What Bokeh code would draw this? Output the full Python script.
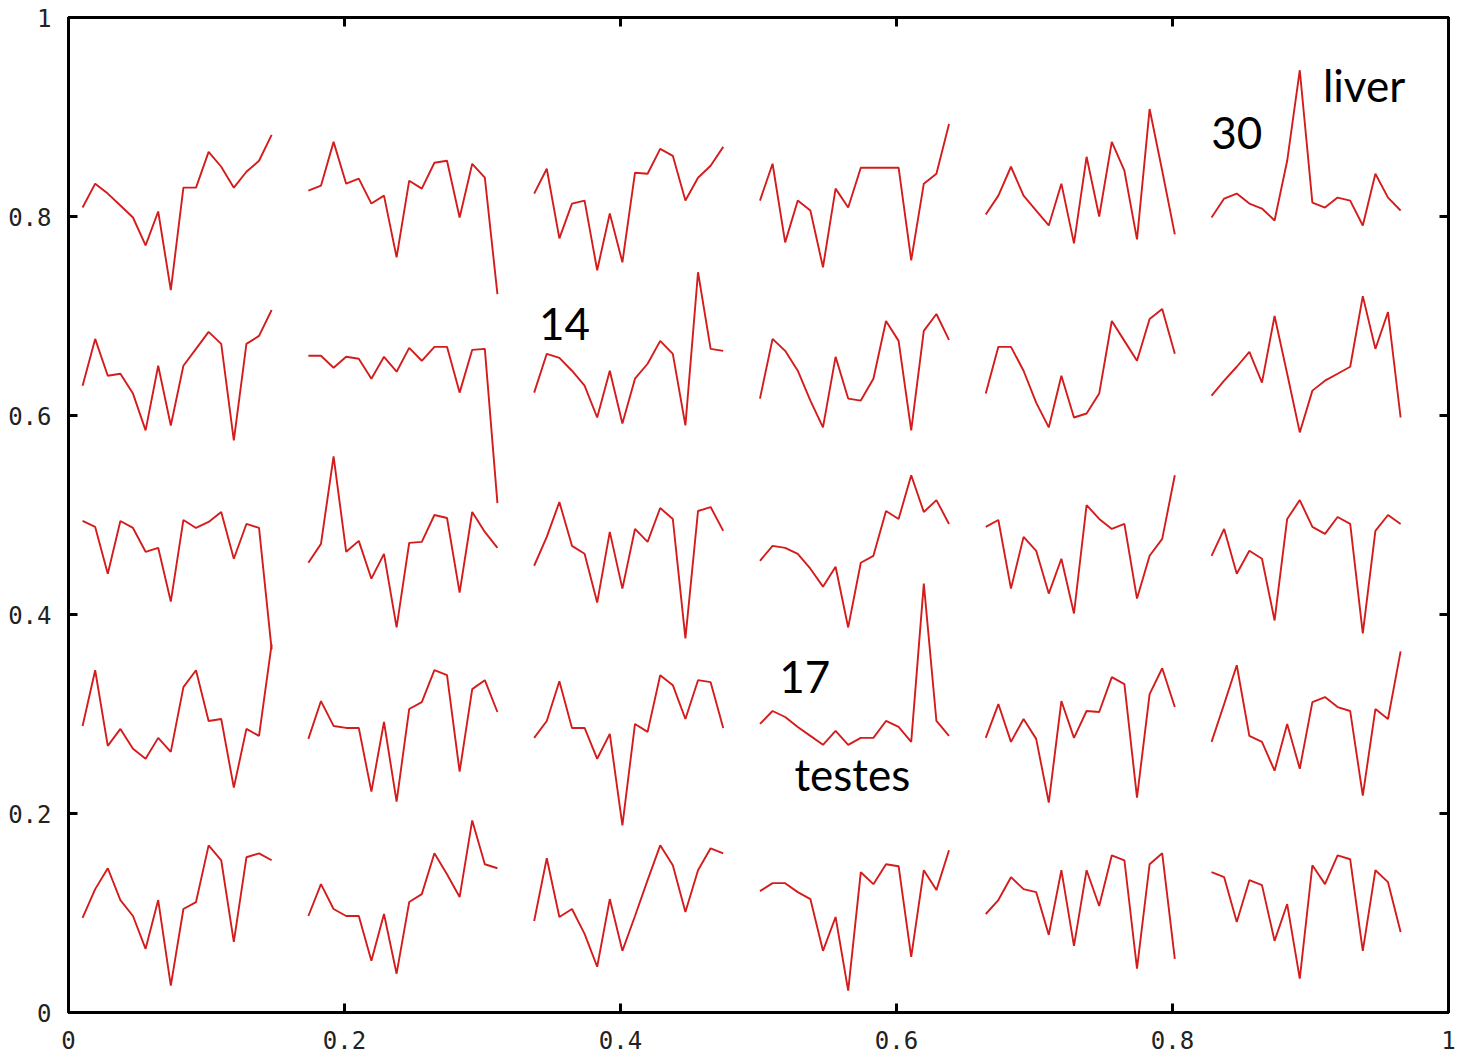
from bokeh.plotting import figure
from bokeh.models import LinearAxis, FixedTicker, CustomJSTickFormatter, Range1d
from bokeh.core.properties import value
from bokeh.embed import file_html
from bokeh.resources import INLINE

# SOM node profiles (nodes numbered column-wise, bottom to top), values as read on the chart's y axis
node_01 = [0.095, 0.124, 0.145, 0.113, 0.097, 0.064, 0.113, 0.027, 0.104, 0.111, 0.168, 0.153, 0.071, 0.156, 0.160, 0.153]
node_02 = [0.288, 0.344, 0.268, 0.285, 0.265, 0.255, 0.276, 0.262, 0.327, 0.344, 0.293, 0.295, 0.226, 0.285, 0.278, 0.370]
node_03 = [0.494, 0.488, 0.441, 0.494, 0.487, 0.463, 0.467, 0.413, 0.495, 0.487, 0.493, 0.503, 0.456, 0.491, 0.487, 0.365]
node_04 = [0.630, 0.677, 0.640, 0.642, 0.622, 0.585, 0.650, 0.590, 0.650, 0.667, 0.684, 0.672, 0.575, 0.672, 0.680, 0.706]
node_05 = [0.809, 0.833, 0.823, 0.811, 0.799, 0.771, 0.805, 0.726, 0.829, 0.829, 0.865, 0.850, 0.829, 0.845, 0.856, 0.882]

node_06 = [0.097, 0.129, 0.104, 0.097, 0.097, 0.052, 0.099, 0.039, 0.111, 0.119, 0.160, 0.139, 0.116, 0.193, 0.149, 0.145]
node_07 = [0.275, 0.313, 0.288, 0.286, 0.286, 0.222, 0.292, 0.212, 0.305, 0.312, 0.344, 0.339, 0.242, 0.325, 0.334, 0.302]
node_08 = [0.452, 0.471, 0.559, 0.463, 0.474, 0.436, 0.461, 0.387, 0.472, 0.473, 0.500, 0.497, 0.422, 0.503, 0.483, 0.467]
node_09 = [0.660, 0.660, 0.648, 0.659, 0.657, 0.637, 0.659, 0.644, 0.668, 0.655, 0.669, 0.669, 0.623, 0.666, 0.667, 0.512]
node_10 = [0.826, 0.831, 0.875, 0.833, 0.838, 0.813, 0.821, 0.759, 0.836, 0.828, 0.854, 0.856, 0.799, 0.853, 0.839, 0.722]

node_11 = [0.092, 0.155, 0.096, 0.104, 0.079, 0.046, 0.114, 0.062, 0.097, 0.133, 0.168, 0.148, 0.101, 0.143, 0.165, 0.160]
node_12 = [0.276, 0.293, 0.333, 0.286, 0.286, 0.255, 0.280, 0.188, 0.290, 0.282, 0.339, 0.329, 0.295, 0.334, 0.332, 0.286]
node_13 = [0.449, 0.478, 0.513, 0.469, 0.461, 0.412, 0.483, 0.426, 0.486, 0.473, 0.507, 0.496, 0.376, 0.504, 0.508, 0.484]
node_14 = [0.623, 0.662, 0.658, 0.645, 0.630, 0.598, 0.645, 0.592, 0.637, 0.652, 0.675, 0.662, 0.590, 0.744, 0.667, 0.665]
node_15 = [0.823, 0.848, 0.778, 0.813, 0.816, 0.746, 0.803, 0.754, 0.844, 0.843, 0.868, 0.861, 0.816, 0.839, 0.851, 0.870]

node_16 = [0.122, 0.130, 0.130, 0.121, 0.114, 0.062, 0.096, 0.022, 0.141, 0.129, 0.149, 0.147, 0.056, 0.143, 0.123, 0.163]
node_17 = [0.290, 0.303, 0.297, 0.287, 0.278, 0.269, 0.283, 0.269, 0.276, 0.276, 0.293, 0.287, 0.272, 0.431, 0.293, 0.278]
node_18 = [0.454, 0.469, 0.467, 0.461, 0.446, 0.428, 0.448, 0.387, 0.452, 0.459, 0.504, 0.496, 0.540, 0.503, 0.515, 0.491]
node_19 = [0.617, 0.677, 0.665, 0.645, 0.615, 0.588, 0.659, 0.617, 0.615, 0.637, 0.695, 0.675, 0.585, 0.685, 0.702, 0.676]
node_20 = [0.816, 0.853, 0.774, 0.816, 0.806, 0.749, 0.828, 0.809, 0.849, 0.849, 0.849, 0.849, 0.756, 0.833, 0.843, 0.893]

node_21 = [0.099, 0.113, 0.136, 0.124, 0.121, 0.078, 0.143, 0.067, 0.143, 0.107, 0.158, 0.153, 0.044, 0.149, 0.160, 0.054]
node_22 = [0.276, 0.310, 0.272, 0.295, 0.275, 0.211, 0.313, 0.276, 0.303, 0.302, 0.337, 0.330, 0.216, 0.320, 0.346, 0.307]
node_23 = [0.488, 0.495, 0.426, 0.478, 0.464, 0.421, 0.456, 0.401, 0.510, 0.496, 0.486, 0.491, 0.416, 0.459, 0.476, 0.540]
node_24 = [0.622, 0.669, 0.669, 0.645, 0.613, 0.588, 0.640, 0.598, 0.602, 0.622, 0.695, 0.675, 0.655, 0.697, 0.707, 0.662]
node_25 = [0.802, 0.821, 0.850, 0.821, 0.806, 0.791, 0.833, 0.773, 0.860, 0.800, 0.875, 0.846, 0.777, 0.908, 0.846, 0.782]

node_26 = [0.141, 0.136, 0.091, 0.133, 0.128, 0.072, 0.109, 0.034, 0.148, 0.129, 0.158, 0.154, 0.062, 0.143, 0.131, 0.081]
node_27 = [0.272, 0.310, 0.349, 0.278, 0.272, 0.243, 0.290, 0.245, 0.312, 0.317, 0.307, 0.303, 0.218, 0.305, 0.295, 0.363]
node_28 = [0.459, 0.486, 0.441, 0.464, 0.456, 0.394, 0.496, 0.515, 0.488, 0.481, 0.498, 0.491, 0.381, 0.484, 0.500, 0.491]
node_29 = [0.620, 0.635, 0.649, 0.664, 0.633, 0.700, 0.642, 0.583, 0.625, 0.635, 0.642, 0.649, 0.720, 0.667, 0.704, 0.598]
node_30 = [0.799, 0.818, 0.823, 0.813, 0.808, 0.796, 0.856, 0.947, 0.814, 0.809, 0.819, 0.816, 0.791, 0.843, 0.819, 0.806]

tick_values = [0, 0.2, 0.4, 0.6, 0.8, 1]

annotation_texts = ["liver", "30", "14", "17", "testes"]

nodes = [node_01, node_02, node_03, node_04, node_05, node_06, node_07, node_08, node_09, node_10,
         node_11, node_12, node_13, node_14, node_15, node_16, node_17, node_18, node_19, node_20,
         node_21, node_22, node_23, node_24, node_25, node_26, node_27, node_28, node_29, node_30]

# layout of the mini profiles along x (one column of the map per 5 nodes)
COL0 = 0.0102
COLSTEP = 0.16362
PWIDTH = 0.137

p = figure(width=1460, height=1058, x_range=Range1d(0, 1), y_range=Range1d(0, 1),
           output_backend="svg", toolbar_location=None,
           min_border_left=68, min_border_right=12, min_border_top=17, min_border_bottom=46)
p.xgrid.visible = False
p.ygrid.visible = False
p.outline_line_color = "black"
p.outline_line_width = 3
p.background_fill_color = "white"
p.border_fill_color = "white"

fmt_code = "return (Math.abs(tick) < 1e-9) ? '0' : (Math.abs(tick-1) < 1e-9 ? '1' : tick.toFixed(1));"

def style_axis(ax, show_labels, standoff):
    ax.ticker = FixedTicker(ticks=tick_values)
    ax.formatter = CustomJSTickFormatter(code=fmt_code)
    ax.axis_line_color = "black"
    ax.axis_line_width = 3
    ax.major_tick_in = 9
    ax.major_tick_out = 0
    ax.major_tick_line_width = 3
    ax.major_tick_line_color = "black"
    ax.minor_tick_line_color = None
    ax.major_label_text_font = "DejaVu Sans Mono"
    if show_labels:
        ax.major_label_text_color = "#222222"
        ax.major_label_text_font_size = "24px"
        ax.major_label_standoff = standoff
    else:
        # mirrored axis: ticks only, labels not drawn
        ax.major_label_text_color = None
        ax.major_label_text_font_size = "0px"
        ax.major_label_standoff = 0

style_axis(p.xaxis[0], True, 18)
style_axis(p.yaxis[0], True, 17)

top_axis = LinearAxis()
style_axis(top_axis, False, 0)
p.add_layout(top_axis, "above")
right_axis = LinearAxis()
style_axis(right_axis, False, 0)
p.add_layout(right_axis, "right")

xs, ys = [], []
for k, prof in enumerate(nodes):
    col = k // 5
    n = len(prof)
    x0 = COL0 + col * COLSTEP
    xs.append([x0 + PWIDTH * i / (n - 1) for i in range(n)])
    ys.append(prof)

p.multi_line(xs=xs, ys=ys, line_color="#d41c1c", line_width=1.9)

# annotation positions (data units, left / baseline)
ann_x = [0.909, 0.828, 0.341, 0.515, 0.526]
ann_y = [0.9325, 0.8835, 0.6915, 0.3376, 0.2401]
p.text(x=ann_x, y=ann_y, text=annotation_texts, text_font=value("Lato"),
       text_font_size="44px", text_color="black", text_align="left",
       text_baseline="alphabetic")

open("out.html", "w").write(file_html(p, INLINE))
